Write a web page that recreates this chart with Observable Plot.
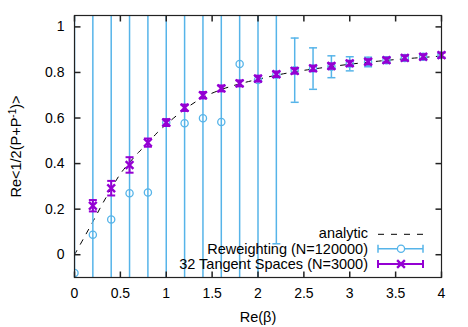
<!DOCTYPE html>
<html><head><meta charset="utf-8">
<script src="https://cdn.jsdelivr.net/npm/d3@7"></script>
<script src="https://cdn.jsdelivr.net/npm/@observablehq/plot@0.6"></script>
<style>
body{margin:0;background:#fff}
svg{font-family:"Liberation Sans",Arial,sans-serif}
</style>
</head><body><div id="chart"></div>
<script>
// ---- data ----
const rwBeta   = [0,0.2,0.4,0.6,0.8,1.0,1.2,1.4,1.6,1.8,2.0,2.2,2.4,2.6,2.8,3.0,3.2,3.4,3.6,3.8,4.0];
const rwValue  = [-0.08,0.088,0.155,0.27,0.273,0.58,0.577,0.599,0.583,0.837,0.767,0.79,0.81,0.817,0.825,0.838,0.846,0.854,0.863,0.869,0.875];
const rwError  = [1.5,1.5,1.5,1.5,1.5,1.5,1.5,1.5,1.5,1.5,1.5,0.742,0.141,0.091,0.048,0.031,0.021,0.014,0.01,0.008,0.007];

const tsBeta   = [0.2,0.4,0.6,0.8,1.0,1.2,1.4,1.6,1.8,2.0,2.2,2.4,2.6,2.8,3.0,3.2,3.4,3.6,3.8,4.0];
const tsValue  = [0.215,0.292,0.394,0.492,0.58,0.645,0.70,0.73,0.752,0.773,0.792,0.807,0.818,0.828,0.84,0.847,0.854,0.864,0.869,0.876];
const tsError  = [0.025,0.032,0.034,0.018,0.015,0.014,0.014,0.013,0.013,0.013,0.012,0.012,0.012,0.012,0.011,0.011,0.011,0.011,0.011,0.011];

const anBeta   = [0,0.1,0.2,0.3,0.4,0.5,0.6,0.7,0.8,0.9,1.0,1.2,1.4,1.6,1.8,2.0,2.2,2.4,2.6,2.8,3.0,3.2,3.4,3.6,3.8,4.0];
const anValue  = [0,0.072,0.145,0.22,0.29,0.355,0.405,0.45,0.49,0.535,0.572,0.638,0.69,0.725,0.75,0.77,0.788,0.803,0.815,0.826,0.836,0.845,0.853,0.86,0.866,0.872];

const xTicks = [0,0.5,1,1.5,2,2.5,3,3.5,4];
const yTicks = [0,0.2,0.4,0.6,0.8,1];
const xLabel = "Re(β)";
const yLabel = "Re<1/2(P+P-1)>";
const legendLabels = ["analytic","Reweighting (N=120000)","32 Tangent Spaces (N=3000)"];

const blue = "#56b4e9", purple = "#9400d3";

const rw = rwBeta.map((b,i)=>({b, v: rwValue[i], e: rwError[i]}));
const ts = tsBeta.map((b,i)=>({b, v: tsValue[i], e: tsError[i]}));
const an = anBeta.map((b,i)=>({b, v: anValue[i]}));

const capH = {draw(c){c.moveTo(-4,0);c.lineTo(4,0);}};
const tickUp = {draw(c){c.moveTo(0,0);c.lineTo(0,-6);}};
const tickDown = {draw(c){c.moveTo(0,0);c.lineTo(0,6);}};
const tickRight = {draw(c){c.moveTo(0,0);c.lineTo(6,0);}};
const tickLeft = {draw(c){c.moveTo(0,0);c.lineTo(-6,0);}};
const fmt = d => String(d);

const chart = Plot.plot({
  width: 468, height: 327,
  marginLeft: 74, marginRight: 27, marginTop: 15, marginBottom: 50,
  style: {fontSize: "14px", fontFamily: '"Liberation Sans",Arial,sans-serif', background: "#fff"},
  x: {domain: [0,4]},
  y: {domain: [-0.1,1.05]},
  marks: [
    Plot.line(an, {x:"b", y:"v", stroke:"#000", strokeWidth:1, strokeDasharray:"5,7", curve:"catmull-rom"}),
    Plot.ruleX(rw, {x:"b", y1:d=>d.v-d.e, y2:d=>d.v+d.e, stroke:blue, strokeWidth:1.5, clip:true}),
    Plot.dot(rw, {x:"b", y:d=>d.v-d.e, symbol:capH, r:3, stroke:blue, fill:"none", strokeWidth:1.5, clip:true}),
    Plot.dot(rw, {x:"b", y:d=>d.v+d.e, symbol:capH, r:3, stroke:blue, fill:"none", strokeWidth:1.5, clip:true}),
    Plot.dot(rw, {x:"b", y:"v", r:3.6, stroke:blue, fill:"none", strokeWidth:1.3, clip:true}),
    Plot.ruleX(ts, {x:"b", y1:d=>d.v-d.e, y2:d=>d.v+d.e, stroke:purple, strokeWidth:2}),
    Plot.dot(ts, {x:"b", y:d=>d.v-d.e, symbol:capH, r:3, stroke:purple, fill:"none", strokeWidth:2}),
    Plot.dot(ts, {x:"b", y:d=>d.v+d.e, symbol:capH, r:3, stroke:purple, fill:"none", strokeWidth:2}),
    Plot.dot(ts, {x:"b", y:"v", symbol:"times", r:3.6, stroke:purple, fill:"none", strokeWidth:2.4}),
    Plot.frame({stroke:"#222", strokeWidth:1.2}),
    Plot.dot(xTicks, {x:d=>d, frameAnchor:"bottom", symbol:tickUp, r:3, stroke:"#222", fill:"none"}),
    Plot.dot(xTicks, {x:d=>d, frameAnchor:"top", symbol:tickDown, r:3, stroke:"#222", fill:"none"}),
    Plot.dot(yTicks, {y:d=>d, frameAnchor:"left", symbol:tickRight, r:3, stroke:"#222", fill:"none"}),
    Plot.dot(yTicks, {y:d=>d, frameAnchor:"right", symbol:tickLeft, r:3, stroke:"#222", fill:"none"}),
    Plot.axisX(xTicks, {anchor:"bottom", tickSize:0, tickPadding:11, label:null, tickFormat:fmt, fontSize:14}),
    Plot.axisY(yTicks, {anchor:"left", tickSize:0, tickPadding:10, label:null, tickFormat:fmt, fontSize:14}),
    Plot.text([xLabel], {frameAnchor:"bottom", dy:44, fontSize:14.5}),
    Plot.text([yLabel], {frameAnchor:"left", dx:-58, rotate:-90, textAnchor:"middle", lineAnchor:"middle", fontSize:14.5})
  ]
});
document.getElementById("chart").appendChild(chart);

const svg = d3.select(chart.tagName.toLowerCase()==="svg" ? chart : chart.querySelector("svg"));

// superscript in y label
svg.selectAll("text").filter(function(){return this.textContent===yLabel;}).each(function(){
  const t = d3.select(this);
  t.text("");
  t.append("tspan").text("Re<1/2(P+P");
  t.append("tspan").attr("dy","-5").attr("font-size","10").text("-1");
  t.append("tspan").attr("dy","5").text(")>");
});

// legend
const lg = svg.append("g").attr("font-size", 14.5).attr("font-family",'"Liberation Sans",Arial,sans-serif');
const textRows = [233.3, 248.8, 264.3];
const sampleRows = [234.3, 248.7, 264];
const tx = 368, l1 = 378, l2 = 423, lc = 401;
legendLabels.forEach((s,i)=>{
  lg.append("text").attr("x",tx).attr("y",textRows[i]).attr("dy","0.35em").attr("text-anchor","end").attr("fill","#000").text(s);
});
lg.append("line").attr("x1",l1).attr("x2",l2).attr("y1",sampleRows[0]).attr("y2",sampleRows[0]).attr("stroke","#000").attr("stroke-dasharray","6,7");
[[blue,1.5],[purple,2]].forEach(([col,w],k)=>{
  const y = sampleRows[k+1];
  lg.append("line").attr("x1",l1).attr("x2",l2).attr("y1",y).attr("y2",y).attr("stroke",col).attr("stroke-width",w);
  lg.append("line").attr("x1",l1).attr("x2",l1).attr("y1",y-4).attr("y2",y+4).attr("stroke",col).attr("stroke-width",w);
  lg.append("line").attr("x1",l2).attr("x2",l2).attr("y1",y-4).attr("y2",y+4).attr("stroke",col).attr("stroke-width",w);
});
lg.append("circle").attr("cx",lc).attr("cy",sampleRows[1]).attr("r",3.6).attr("fill","#fff").attr("stroke",blue).attr("stroke-width",1.3);
lg.append("path").attr("d",d3.symbol(d3.symbolTimes, 3.6*3.6*Math.PI)()).attr("transform",`translate(${lc},${sampleRows[2]})`).attr("fill","none").attr("stroke",purple).attr("stroke-width",2.4);
</script>
</body></html>
